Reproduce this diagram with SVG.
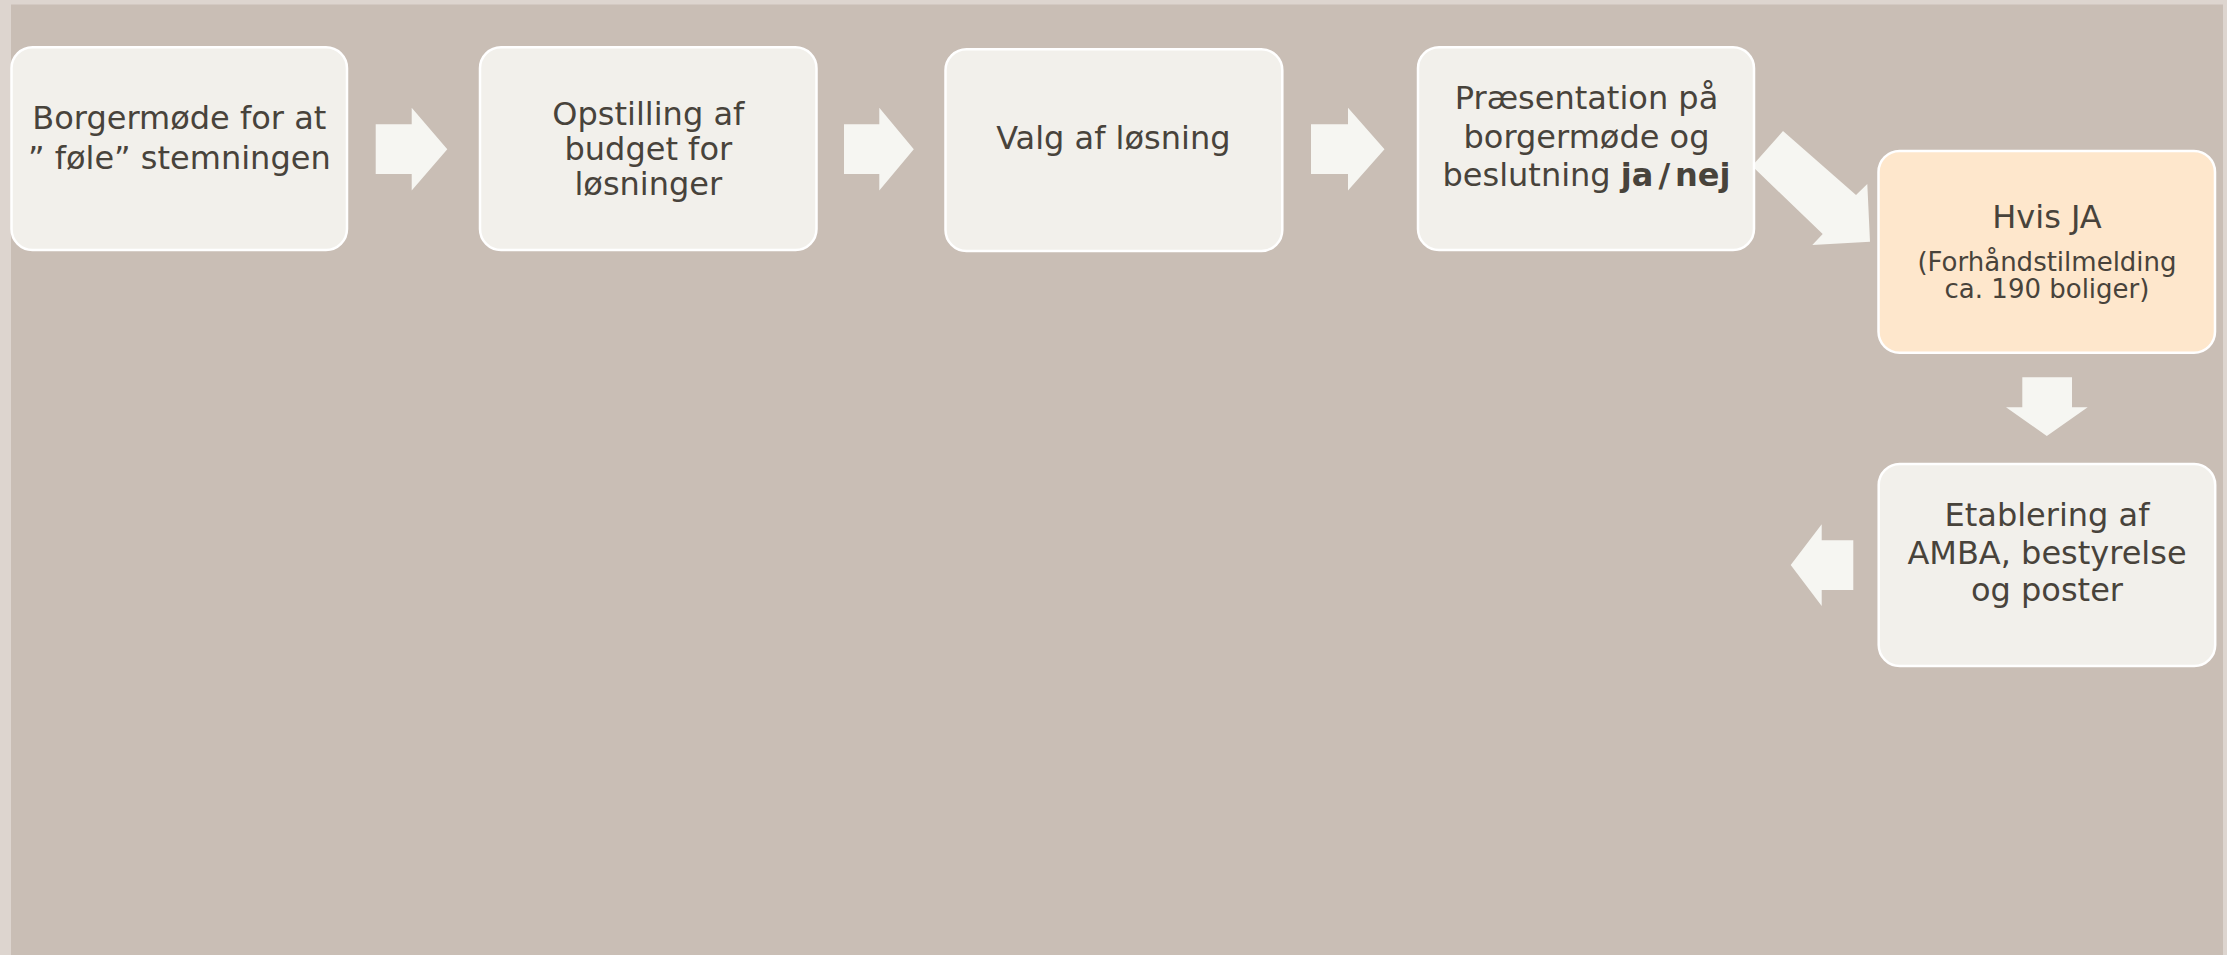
<svg xmlns="http://www.w3.org/2000/svg" width="2227" height="955" viewBox="0 0 2227 955">
  <style>
    .box { fill: #F2F0EB; stroke: #FFFFFF; stroke-width: 2.5; }
    .hl { fill: #FEE7CC; }
    .arrow { fill: #F6F6F2; }
    text { font-family: "DejaVu Sans", Verdana, sans-serif; font-size: 32px; fill: #48433B; text-anchor: middle; }
    .sub { font-size: 26px; }
  </style>
  <rect x="0" y="0" width="2227" height="955" fill="#DDD5CF"/>
  <rect x="11" y="4.5" width="2212" height="950.5" fill="#C9BEB5"/>

  <g id="connectors">
    <polygon class="arrow" points="375.7,124.3 411.7,124.3 411.7,107.8 447.3,149.2 411.7,190.6 411.7,174.1 375.7,174.1"/>
    <polygon class="arrow" points="844,124.3 879.3,124.3 879.3,107.8 913.8,149.2 879.3,190.6 879.3,174.1 844,174.1"/>
    <polygon class="arrow" points="1311,124.3 1348,124.3 1348,107.8 1384.5,149.2 1348,190.6 1348,174.1 1311,174.1"/>
    <polygon class="arrow" points="1783,131 1856,195 1867.3,184 1870,241.7 1812.3,245 1822.7,234 1752,166"/>
    <polygon class="arrow" points="2022.3,377.3 2072,377.3 2072,407.3 2087.7,407.3 2046.8,436 2006,407.3 2022.3,407.3"/>
    <polygon class="arrow" points="1853.3,540.3 1821.7,540.3 1821.7,524.3 1790.7,565 1821.7,606 1821.7,590 1853.3,590"/>
  </g>

  <g id="node1">
    <rect class="box" x="11.5" y="47.3" width="335.5" height="202.7" rx="21"/>
    <text x="179.3" y="129.3">Borgermøde for at</text>
    <text x="179.3" y="169">” føle” stemningen</text>
  </g>
  <g id="node2">
    <rect class="box" x="480" y="47.3" width="336.5" height="202.7" rx="21"/>
    <text x="648.3" y="125">Opstilling af</text>
    <text x="648.3" y="160">budget for</text>
    <text x="648.3" y="195">løsninger</text>
  </g>
  <g id="node3">
    <rect class="box" x="945.5" y="49.3" width="336.8" height="201.7" rx="21"/>
    <text x="1113.3" y="149">Valg af løsning</text>
  </g>
  <g id="node4">
    <rect class="box" x="1418" y="47.3" width="336" height="202.7" rx="21"/>
    <text x="1586.5" y="109">Præsentation på</text>
    <text x="1586.5" y="148.3">borgermøde og</text>
    <text x="1586.5" y="185.7">beslutning <tspan font-weight="bold">ja<tspan dx="5">/</tspan><tspan dx="5">nej</tspan></tspan></text>
  </g>
  <g id="node5">
    <rect class="box hl" x="1878.5" y="151" width="336.5" height="201.7" rx="21"/>
    <text x="2047" y="228.3">Hvis JA</text>
    <text class="sub" x="2047" y="270.7">(Forhåndstilmelding</text>
    <text class="sub" x="2047" y="298.3">ca. 190 boliger)</text>
  </g>
  <g id="node6">
    <rect class="box" x="1878.7" y="464" width="336.5" height="202" rx="21"/>
    <text x="2047" y="525.7">Etablering af</text>
    <text x="2047" y="564">AMBA, bestyrelse</text>
    <text x="2047" y="600.7">og poster</text>
  </g>
</svg>
